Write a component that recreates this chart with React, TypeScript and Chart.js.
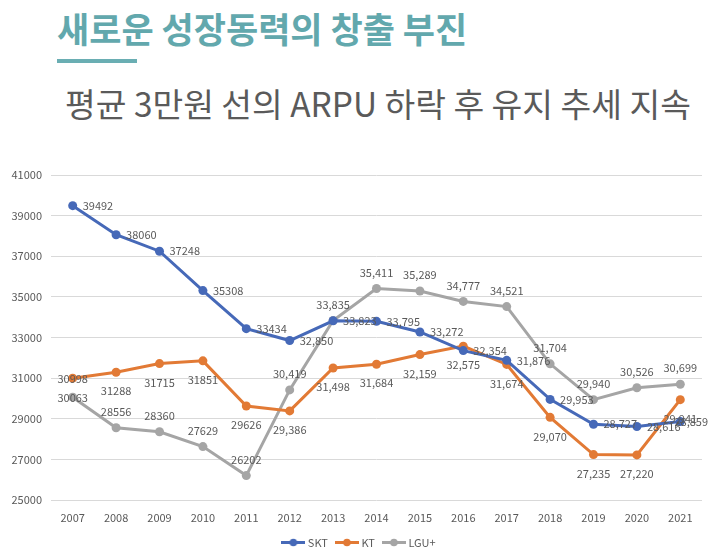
import React, { useEffect, useRef } from 'react';
import { Chart, registerables } from 'chart.js';

Chart.register(...registerables);

const years = ['2007', '2008', '2009', '2010', '2011', '2012', '2013', '2014', '2015', '2016', '2017', '2018', '2019', '2020', '2021'];
const sktValues = [39492, 38060, 37248, 35308, 33434, 32850, 33823, 33795, 33272, 32354, 31876, 29953, 28727, 28616, 28859];
const ktValues = [30998, 31288, 31715, 31851, 29626, 29386, 31498, 31684, 32159, 32575, 31674, 29070, 27235, 27220, 29941];
const lguValues = [30063, 28556, 28360, 27629, 26202, 30419, 33835, 35411, 35289, 34777, 34521, 31704, 29940, 30526, 30699];
const seriesNames = ['SKT', 'KT', 'LGU+'];
const seriesColors = ['#4669B8', '#E27A35', '#A5A5A5'];
const yMin = 25000;
const yMax = 41000;
const yStep = 2000;

const FONT = '"Noto Sans CJK KR", "Noto Sans", sans-serif';
const TEXT = '#595959';

function fmt(v: number, i: number) {
  return Number(years[i]) >= 2012 ? v.toLocaleString('en-US') : String(v);
}

export default function App() {
  const ref = useRef<HTMLCanvasElement>(null);

  useEffect(() => {
    if (!ref.current) return;
    const mkIcon = (c: string) => {
      const cv = document.createElement('canvas');
      cv.width = 24;
      cv.height = 9;
      const ctx = cv.getContext('2d')!;
      ctx.strokeStyle = c;
      ctx.lineWidth = 3;
      ctx.beginPath();
      ctx.moveTo(0, 4.5);
      ctx.lineTo(24, 4.5);
      ctx.stroke();
      ctx.fillStyle = c;
      ctx.beginPath();
      ctx.arc(12, 4.5, 3.8, 0, Math.PI * 2);
      ctx.fill();
      return cv;
    };
    const icons = seriesColors.map(mkIcon);

    const labelPlugin = {
      id: 'pointLabels',
      afterLayout(chart: any) {
        if (chart.legend) {
          chart.legend.left = 18;
          chart.legend.right = 702;
        }
      },
      afterDatasetsDraw(chart: any) {
        const ctx = chart.ctx;
        const W = chart.width;
        ctx.save();
        ctx.font = `11px ${FONT}`;
        ctx.fillStyle = TEXT;
        chart.data.datasets.forEach((ds: any, di: number) => {
          const meta = chart.getDatasetMeta(di);
          meta.data.forEach((pt: any, i: number) => {
            const txt = fmt(ds.data[i], i);
            let x = pt.x;
            let y = pt.y;
            if (di === 0) {
              ctx.textAlign = 'left';
              const w = ctx.measureText(txt).width;
              x = Math.min(x + 10, W - 2 - w);
            } else if (i === 0) {
              ctx.textAlign = 'center';
              y += 1;
            } else if (di === 1) {
              ctx.textAlign = 'center';
              y += 19;
            } else {
              ctx.textAlign = 'center';
              y -= 16;
            }
            ctx.textBaseline = 'middle';
            ctx.fillText(txt, x, y);
          });
        });
        ctx.restore();
      },
    };

    const valueSets = [sktValues, ktValues, lguValues];
    const chart = new Chart(ref.current, {
      type: 'line',
      data: {
        labels: years,
        datasets: valueSets.map((vals, i) => ({
          label: seriesNames[i],
          data: vals,
          borderColor: seriesColors[i],
          backgroundColor: seriesColors[i],
          borderWidth: 3,
          pointRadius: 4.5,
          pointBorderWidth: 0,
          pointStyle: 'circle',
          tension: 0,
        })),
      },
      options: {
        responsive: false,
        animation: false,
        layout: { padding: { left: 0, right: 8, top: 20, bottom: 1 } },
        scales: {
          x: {
            offset: true,
            grid: { display: false },
            border: { display: false },
            ticks: { color: TEXT, font: { family: FONT, size: 11 }, padding: 3 },
            afterFit(s: any) { s.height = 27; },
          },
          y: {
            min: yMin,
            max: yMax,
            ticks: { stepSize: yStep, color: TEXT, font: { family: FONT, size: 11 }, padding: 9, callback: (v: any) => String(v) },
            grid: { color: '#d9d9d9', drawTicks: false, lineWidth: 1 },
            border: { display: false },
            afterFit(s: any) { s.width = 51; },
          },
        },
        plugins: {
          legend: {
            position: 'bottom',
            labels: {
              usePointStyle: true,
              pointStyleWidth: 18,
              boxHeight: 11,
              padding: 10,
              color: TEXT,
              font: { family: FONT, size: 11 },
              generateLabels: (c: any) =>
                (Chart.defaults.plugins.legend.labels as any).generateLabels(c).map((l: any, i: number) => ({ ...l, pointStyle: icons[i] })),
            },
          },
          tooltip: { enabled: false },
        },
      },
      plugins: [labelPlugin],
    } as any);
    return () => chart.destroy();
  }, []);

  return (
    <div style={{ position: 'absolute', left: 0, top: 0, width: 710, height: 559, background: '#fff', overflow: 'hidden' }}>
      <div style={{ position: 'absolute', left: 57, top: 4, fontFamily: FONT, fontWeight: 700, fontSize: 35, lineHeight: '48px', color: '#62a8ad', whiteSpace: 'nowrap' }}>
        새로운 성장동력의 창출 부진
      </div>
      <div style={{ position: 'absolute', left: 57, top: 59, width: 80, height: 4, background: '#6aaeb3' }} />
      <div style={{ position: 'absolute', left: 65, top: 79, fontFamily: FONT, fontWeight: 400, fontSize: 33.4, lineHeight: '48px', color: '#5a5a5a', whiteSpace: 'nowrap' }}>
        평균 3만원 선의 ARPU 하락 후 유지 추세 지속
      </div>
      <canvas ref={ref} width={710} height={404} style={{ position: 'absolute', left: 0, top: 155, display: 'block' }} />
    </div>
  );
}
